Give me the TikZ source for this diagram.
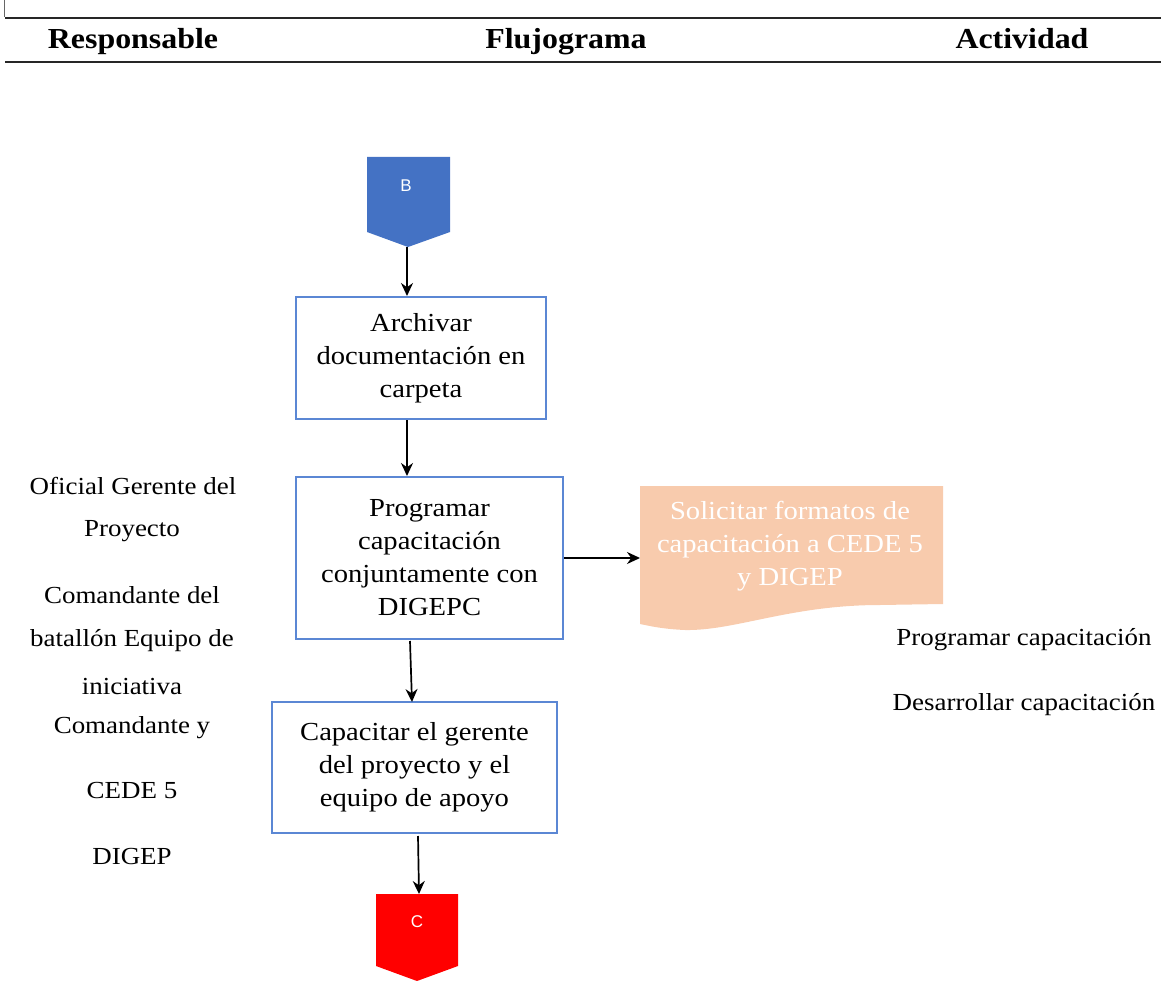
\documentclass[tikz,border=0pt]{standalone}
\usepackage{fontspec}
\setmainfont[FakeStretch=1.1]{Liberation Serif}
\newfontfamily\lettersans{Liberation Sans}
\usetikzlibrary{arrows.meta}
\definecolor{boxblue}{HTML}{5B87D4}
\definecolor{connblue}{HTML}{4472C4}
\definecolor{peach}{HTML}{F8CBAD}
\definecolor{connred}{HTML}{FF0000}
\tikzset{
  headtxt/.style={font=\fontsize{29}{32}\selectfont\bfseries, inner sep=0pt, anchor=base},
  procbox/.style={draw=boxblue, line width=2pt, align=center, inner sep=2pt,
    font=\fontsize{26}{33}\selectfont},
  sidetxt/.style={font=\fontsize{24.5}{28}\selectfont, inner sep=0pt},
  arr/.style={draw=black, line width=1.7pt, -{Stealth[length=13pt,width=12pt]}},
  rule/.style={draw=black!85, line width=2.2pt},
  conntxt/.style={text=white, font=\lettersans\fontsize{17}{20}\selectfont, inner sep=0pt}
}
\begin{document}
\begin{tikzpicture}[x=1pt,y=-1pt]
\useasboundingbox (0,0) rectangle (1161,981);

% header rules and column titles
\draw[black!60, line width=0.8pt] (4.5,0) -- (4.5,17);
\coordinate (rtl) at (5,18);
\coordinate (rtr) at (1161,18);
\coordinate (rbl) at (5,62);
\coordinate (rbr) at (1161,62);
\draw[rule] (rtl) -- (rtr);
\draw[rule] (rbl) -- (rbr);
\node[headtxt] (h1) at (133,49) {Responsable};
\node[headtxt] (h2) at (566,49) {Flujograma};
\node[headtxt] (h3) at (1022,49) {Actividad};

% off-page connector B
\fill[connblue] (367,157) -- (450,157) -- (450,232) -- (408,247) -- (367,232) -- cycle;
\node[conntxt] (B) at (406,186) {B};
\coordinate (Btip) at (407,247);

% process boxes
\node[procbox, minimum width=250pt, minimum height=122pt] (a1) at (421,358)
  {Archivar\\documentación en\\carpeta};
\node[procbox, minimum width=267pt, minimum height=162pt] (a2) at (429.5,558)
  {Programar\\capacitación\\conjuntamente con\\DIGEPC};
\node[procbox, minimum width=285pt, minimum height=131pt] (a3) at (414.5,767.5)
  {Capacitar el gerente\\del proyecto y el\\equipo de apoyo};

% document shape
\fill[peach] (640,486) -- (943,486) -- (943,604) -- (880,605)
  .. controls (790,605) and (735,631) .. (685,630)
  .. controls (662,629) and (650,626) .. (640,624) -- cycle;
\node[text=white, align=center, font=\fontsize{26}{33}\selectfont, inner sep=0pt]
  (doc) at (790,546) {Solicitar formatos de\\capacitación a CEDE 5\\y DIGEP};
\coordinate (docw) at (640,558);

% off-page connector C
\fill[connred] (376,894) -- (458,894) -- (458,966) -- (417,981) -- (376,966) -- cycle;
\node[conntxt] (C) at (417,922) {C};
\coordinate (Ctop) at (419,894);

% connectors
\draw[arr] (Btip) -- (Btip |- a1.north);
\draw[arr] (a1.south -| Btip) -- (a2.north -| Btip);
\coordinate (p2s) at (410,641);
\coordinate (p3n) at (412,702);
\draw[arr] (p2s) -- (p3n);
\coordinate (p3s) at (418,836);
\draw[arr] (p3s) -- (Ctop);
\draw[arr] (a2.east) -- (docw);

% responsible column
\node[sidetxt] (l1) at (133,486) {Oficial Gerente del};
\node[sidetxt] (l2) at (132,531) {Proyecto};
\node[sidetxt] (l3) at (132,595) {Comandante del};
\node[sidetxt] (l4) at (132,641) {batallón Equipo de};
\node[sidetxt] (l5) at (132,687) {iniciativa};
\node[sidetxt] (l6) at (132,728) {Comandante y};
\node[sidetxt] (l7) at (132,791) {CEDE 5};
\node[sidetxt] (l8) at (132,857) {DIGEP};

% activity column
\node[sidetxt] (r1) at (1024,640) {Programar capacitación};
\node[sidetxt] (r2) at (1024,705) {Desarrollar capacitación};
\end{tikzpicture}
\end{document}
